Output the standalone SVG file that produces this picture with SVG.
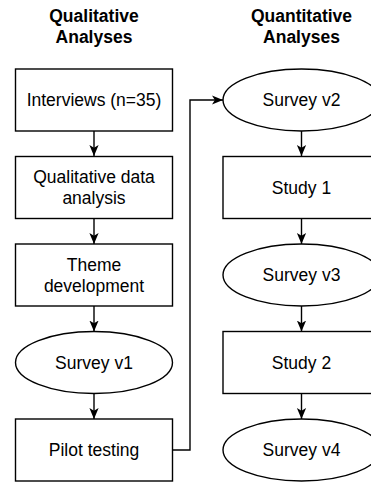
<svg xmlns="http://www.w3.org/2000/svg" width="371" height="483" viewBox="0 0 371 483">
<style>
.node{fill:#fff;stroke:#000;stroke-width:1.4}
.t{font-family:"Liberation Sans",Arial,sans-serif;font-size:17.5px;fill:#000;text-anchor:middle}
.h{font-family:"Liberation Sans",Arial,sans-serif;font-size:17.5px;font-weight:bold;fill:#000;text-anchor:middle}
.e{fill:none;stroke:#000;stroke-width:1.4}
</style>
<defs>
<marker id="arr" viewBox="0 0 10 10" refX="10" refY="5" markerWidth="11" markerHeight="11" markerUnits="userSpaceOnUse" orient="auto">
<path d="M0,0.8 L10,5 L0,9.2 L2.6,5 z" fill="#000"/>
</marker>
</defs>
<rect width="371" height="483" fill="#fff"/>
<g id="titles">
<text class="h" x="94" y="22">Qualitative</text>
<text class="h" x="94" y="43">Analyses</text>
<text class="h" x="301.5" y="22">Quantitative</text>
<text class="h" x="301.5" y="43">Analyses</text>
</g>
<g id="edges">
<path class="e" d="M94,131 L94,156" marker-end="url(#arr)"/>
<path class="e" d="M94,218.5 L94,244" marker-end="url(#arr)"/>
<path class="e" d="M94,306 L94,331.5" marker-end="url(#arr)"/>
<path class="e" d="M94,393.5 L94,419" marker-end="url(#arr)"/>
<path class="e" d="M172.5,450 L190,450 L190,100 L223,100" marker-end="url(#arr)"/>
<path class="e" d="M301.5,131 L301.5,156" marker-end="url(#arr)"/>
<path class="e" d="M301.5,218.5 L301.5,244" marker-end="url(#arr)"/>
<path class="e" d="M301.5,306 L301.5,331.5" marker-end="url(#arr)"/>
<path class="e" d="M301.5,393.5 L301.5,419" marker-end="url(#arr)"/>
</g>
<g id="interviews">
<rect class="node" x="15.5" y="69" width="157" height="62"/>
<text class="t" x="94" y="106">Interviews (n=35)</text>
</g>
<g id="qda">
<rect class="node" x="15.5" y="156.5" width="157" height="62"/>
<text class="t" x="94" y="183">Qualitative data</text>
<text class="t" x="94" y="204">analysis</text>
</g>
<g id="theme">
<rect class="node" x="15.5" y="244" width="157" height="62"/>
<text class="t" x="94" y="270.5">Theme</text>
<text class="t" x="94" y="291.5">development</text>
</g>
<g id="survey1">
<ellipse class="node" cx="94" cy="362.5" rx="78.5" ry="31"/>
<text class="t" x="94" y="368.5">Survey v1</text>
</g>
<g id="pilot">
<rect class="node" x="15.5" y="419" width="157" height="62"/>
<text class="t" x="94" y="456">Pilot testing</text>
</g>
<g id="survey2">
<ellipse class="node" cx="301.5" cy="100" rx="78.5" ry="31"/>
<text class="t" x="301.5" y="106">Survey v2</text>
</g>
<g id="study1">
<rect class="node" x="223" y="156.5" width="157" height="62"/>
<text class="t" x="301.5" y="193.5">Study 1</text>
</g>
<g id="survey3">
<ellipse class="node" cx="301.5" cy="275" rx="78.5" ry="31"/>
<text class="t" x="301.5" y="281">Survey v3</text>
</g>
<g id="study2">
<rect class="node" x="223" y="331.5" width="157" height="62"/>
<text class="t" x="301.5" y="368.5">Study 2</text>
</g>
<g id="survey4">
<ellipse class="node" cx="301.5" cy="450" rx="78.5" ry="31"/>
<text class="t" x="301.5" y="456">Survey v4</text>
</g>
</svg>
